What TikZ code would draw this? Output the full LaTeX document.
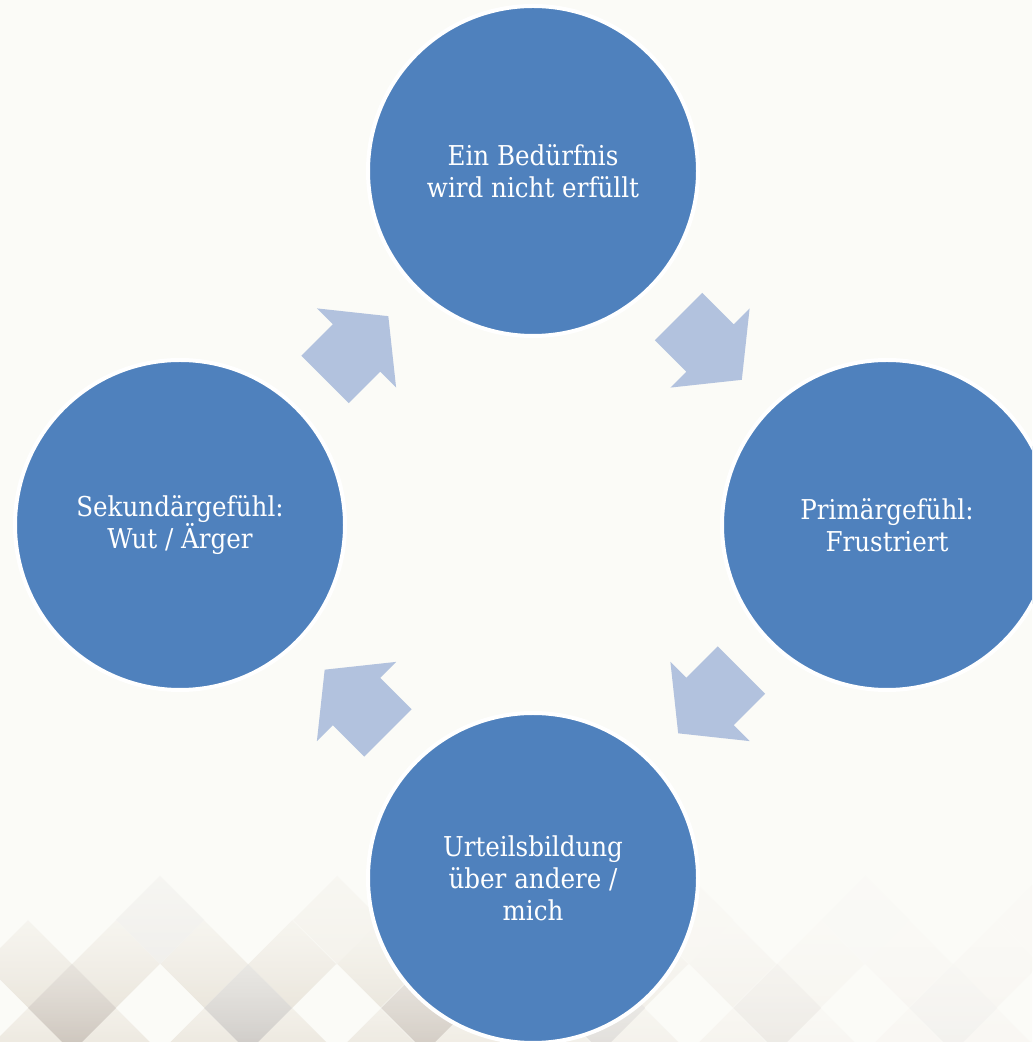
\documentclass[tikz,border=0pt]{standalone}
\usepackage{fontspec}
\setmainfont{DejaVu Serif Condensed}
\usetikzlibrary{positioning,calc,fadings}

\definecolor{stageblue}{HTML}{4F81BD}
\definecolor{arrowblue}{HTML}{B2C2DE}
\definecolor{paper}{HTML}{FBFBF7}
\definecolor{taupe}{HTML}{C4BBB1}
\definecolor{taupelight}{HTML}{D8D1C9}
\definecolor{stone}{HTML}{C6C2BE}
\definecolor{stonelight}{HTML}{DCD9D5}
\definecolor{mist}{HTML}{E9E7E4}
\definecolor{beige}{HTML}{E4DED2}
\definecolor{beigelight}{HTML}{F0ECE4}
\definecolor{chalk}{HTML}{FCFBF8}

\tikzfading[name=fadetop, top color=transparent!0, bottom color=transparent!100]

\tikzset{
  cyclearrow/.pic={
    \fill[arrowblue] (-44.5,-33.5) -- (0,-33.5) -- (0,-56) -- (45,0)
      -- (0,56) -- (0,33.5) -- (-44.5,33.5) -- cycle;
  },
}

% one floor diamond, paler to the right
\newcommand\floortile[4]{%
  \pgfmathtruncatemacro\tilemix{max(20,min(100,100-(#1-350)*0.16))}%
  \colorlet{tiletop}{#3!\tilemix!chalk}%
  \colorlet{tilebot}{#4!\tilemix!chalk}%
  \shade[top color=tiletop, bottom color=tilebot]
    (#1,#2) +(0,44) -- +(44,0) -- +(0,-44) -- +(-44,0) -- cycle;
}

\begin{document}
\begin{tikzpicture}[
  x = 0.75pt, y = 0.75pt,
  stage/.style = {circle, fill=stageblue, draw=white, line width=3pt,
    minimum size=247.5pt, inner sep=0pt, text=white, align=center,
    font=\fontsize{20.5}{24}\selectfont},
  ]
  \useasboundingbox (0,0) rectangle (1032,1042);
  \clip (0,0) rectangle (1032,1042);
  \fill[paper] (0,0) rectangle (1032,1042);

  % diamond floor
  \foreach \y in {-10,78}
    \foreach \x in {-60,28,...,1070}
      \floortile{\x}{\y}{beigelight}{beige};
  \foreach \x/\a/\b in {-16/chalk/chalk, 72/taupelight/taupe, 160/chalk/chalk,
      248/stonelight/stone, 337/chalk/chalk, 425/taupelight/taupe, 513/chalk/chalk,
      601/stonelight/stone, 689/chalk/chalk, 777/taupelight/taupe, 865/chalk/chalk,
      953/stonelight/stone, 1041/chalk/chalk}
    \floortile{\x}{34}{\a}{\b};
  \foreach \x/\a in {-16/chalk, 72/chalk, 160/mist, 248/chalk, 337/beigelight,
      425/chalk, 513/mist, 601/chalk, 689/beigelight, 777/chalk, 865/mist,
      953/chalk, 1041/beigelight}
    \floortile{\x}{122}{\a}{\a};
  \fill[paper, path fading=fadetop] (0,-50) rectangle (1032,240);

  % stages
  \node[stage] (need) at (533,871) {Ein Bedürfnis\\wird nicht erfüllt};
  \node[stage] (prim) at ($(need)+(354,-354)$) {Primärgefühl:\\Frustriert};
  \node[stage] (judge) at ($(need)+(0,-707)$) {Urteilsbildung\\über andere /\\mich};
  \node[stage] (second) at ($(need)+(-353,-354)$) {Sekundärgefühl:\\Wut / Ärger};

  \pic[rotate=-45] at ($(need)!.5!(prim)$) {cyclearrow};
  \pic[rotate=-135] at ($(prim)!.5!(judge)$) {cyclearrow};
  \pic[rotate=135] at ($(judge)!.5!(second)$) {cyclearrow};
  \pic[rotate=45] at ($(second)!.5!(need)$) {cyclearrow};
\end{tikzpicture}
\end{document}
